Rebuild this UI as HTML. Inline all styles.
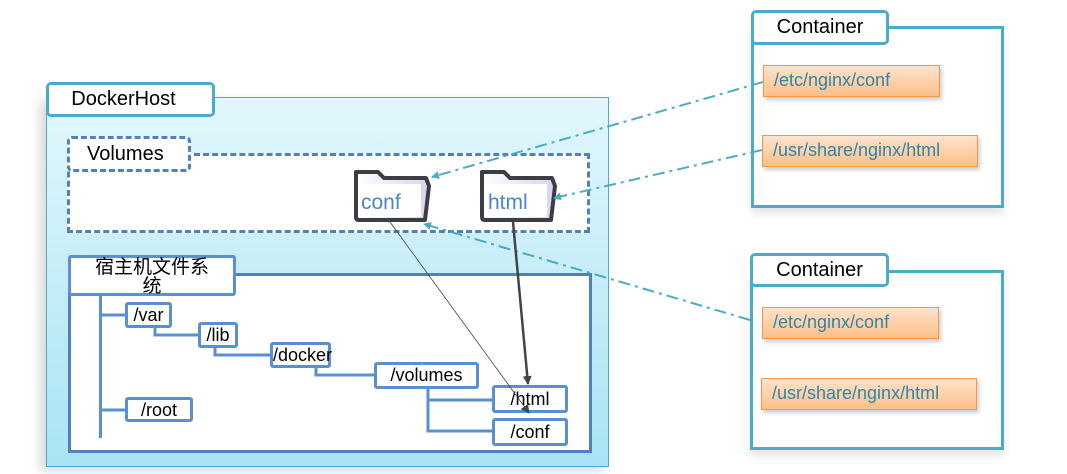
<!DOCTYPE html>
<html><head><meta charset="utf-8"><style>
body{margin:0;width:1067px;height:474px;background:#fff;position:relative;overflow:hidden;font-family:"Liberation Sans","Noto Sans CJK SC",sans-serif}
.a{position:absolute;box-sizing:border-box}
.tab{background:#fff;border:3px solid #4bacc6;border-radius:5px;font-size:20px;text-align:center;color:#000}
.bt{background:#fff;border:3px solid #5b8fd4;border-radius:3px;font-size:18px;text-align:center;line-height:20px;white-space:nowrap}
.or{background:linear-gradient(#fee3cc,#fdbf88);border:1.5px solid #f79646;color:#2e86a8;font-size:18px;padding-left:10px;line-height:28px;box-shadow:2px 3px 4px rgba(0,0,0,.2);white-space:nowrap}
</style></head><body>
<div class="a" style="left:46px;top:97px;width:563px;height:370px;border:1.5px solid #4bacc6;background:linear-gradient(#e2f7fc,#a9e3f4);box-shadow:-6px 4px 10px rgba(0,0,0,.15)"></div>
<div class="a tab" style="left:46px;top:82px;width:169px;height:35px;line-height:29px;padding-right:14px">DockerHost</div>
<div class="a" style="left:67px;top:153px;width:523px;height:80px;border:3px dashed #4f81bd;background:#fff"></div>
<div class="a" style="left:67px;top:136px;width:124px;height:36px;border:3px dashed #4f81bd;border-radius:5px;background:#fff;font-size:20px;line-height:30px;padding-left:17px">Volumes</div>
<div class="a" style="left:68px;top:273px;width:524px;height:180px;border:3px solid #4f81bd;background:#fff"></div>
<div class="a bt" style="left:68px;top:255px;width:168px;height:41px;font-size:19px;line-height:19px;padding-top:0">宿主机文件系<br>统</div>
<div class="a" style="left:99px;top:296px;width:3px;height:142px;background:#5b8fd4"></div>
<div class="a bt" style="left:125px;top:302px;width:47px;height:26px">/var</div>
<div class="a bt" style="left:198px;top:322px;width:40px;height:26px">/lib</div>
<div class="a bt" style="left:270px;top:342px;width:61px;height:26px">/docker</div>
<div class="a bt" style="left:374px;top:362px;width:105px;height:27px">/volumes</div>
<div class="a bt" style="left:492px;top:385px;width:76px;height:28px;line-height:22px">/html</div>
<div class="a bt" style="left:492px;top:418px;width:76px;height:28px;line-height:22px">/conf</div>
<div class="a bt" style="left:125px;top:397px;width:68px;height:25px">/root</div>
<div class="a" style="left:751px;top:26px;width:253px;height:182px;border:3px solid #4bacc6;background:#fff;box-shadow:0 6px 8px rgba(0,0,0,.1)"></div>
<div class="a tab" style="left:751px;top:10px;width:138px;height:35px;line-height:29px">Container</div>
<div class="a or" style="left:763px;top:65px;width:177px;height:32px">/etc/nginx/conf</div>
<div class="a or" style="left:762px;top:135px;width:216px;height:32px">/usr/share/nginx/html</div>
<div class="a" style="left:750px;top:270px;width:254px;height:180px;border:3px solid #4bacc6;background:#fff;box-shadow:0 6px 8px rgba(0,0,0,.1)"></div>
<div class="a tab" style="left:750px;top:253px;width:139px;height:34px;line-height:28px">Container</div>
<div class="a or" style="left:762px;top:307px;width:177px;height:32px">/etc/nginx/conf</div>
<div class="a or" style="left:761px;top:378px;width:216px;height:32px">/usr/share/nginx/html</div>
<svg class="a" style="left:0;top:0" width="1067" height="474">
<defs>
<marker id="m1" markerWidth="8" markerHeight="8" refX="7" refY="4" orient="auto" markerUnits="userSpaceOnUse"><path d="M0,0L8,4L0,8z" fill="#4bacc6"/></marker>
<marker id="m2" markerWidth="9" markerHeight="9" refX="8" refY="4.5" orient="auto" markerUnits="userSpaceOnUse"><path d="M0,0L9,4.5L0,9z" fill="#444"/></marker>
<linearGradient id="fg" x1="0" x2="1"><stop offset="0" stop-color="#fff"/><stop offset="1" stop-color="#d8d4f0"/></linearGradient>
</defs>
<g fill="none" stroke="#5b8fd4" stroke-width="3">
<path d="M101,315H125M101,410H125M155,328V335H198M215,348V355H270M316,368V375H374M428,389V431H492M428,400H492"/>
</g>
<g stroke="#3d3d44" stroke-width="4" fill="url(#fg)" stroke-linejoin="round">
<path d="M356,172h22l6,6h42l3,8l-4,34h-66q-3,0-3-3z"/>
<path d="M482,172h22l6,6h42l3,8l-4,34h-66q-3,0-3-3z"/>
</g>
<g fill="#fff"><rect x="359" y="184" width="62" height="33"/><rect x="485" y="184" width="62" height="33"/></g>
<text x="361" y="209" font-size="21" fill="#4a86c8" font-family="Liberation Sans">conf</text>
<text x="488" y="209" font-size="21" fill="#4a86c8" font-family="Liberation Sans">html</text>
<g stroke="#4bacc6" stroke-width="2" stroke-dasharray="12,5,3,5" fill="none">
<line x1="763" y1="82" x2="432" y2="177" marker-end="url(#m1)"/>
<line x1="762" y1="150" x2="554" y2="198" marker-end="url(#m1)"/>
<line x1="750" y1="320" x2="424" y2="224" marker-end="url(#m1)"/>
</g>
<line x1="390" y1="222" x2="529" y2="413" stroke="#444" stroke-width="0.8" marker-end="url(#m2)"/>
<line x1="513" y1="222" x2="528" y2="384" stroke="#444" stroke-width="2.5" marker-end="url(#m2)"/>
</svg>
</body></html>
